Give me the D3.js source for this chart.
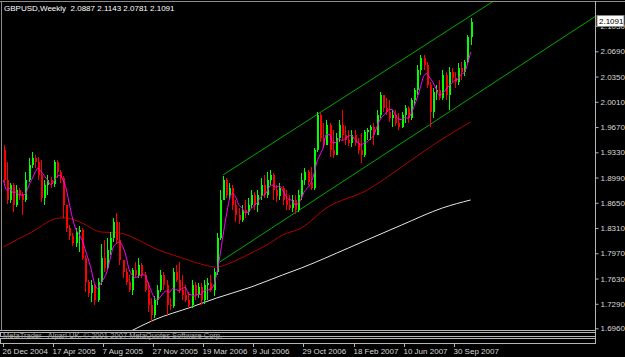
<!DOCTYPE html>
<html>
<head>
<meta charset="utf-8">
<script src="https://cdn.jsdelivr.net/npm/d3@7"></script>
<style>
  body { margin: 0; background: #000; }
  svg { display: block; }
  text { font-family: "Liberation Sans", Arial, sans-serif; }
</style>
</head>
<body>
<svg id="chart"></svg>
<script>
// GBPUSD weekly bars, 26 Dec 2004 .. 4 Nov 2007
var symbol = "GBPUSD,Weekly"
var firstWeek = "2004-12-26"

var openP = [
  1.9361,1.8957,1.8688,1.8890,1.8620,1.8822,1.8755,1.8688,1.8957,1.9159,
  1.9253,1.9199,1.9024,1.8715,1.8890,1.8957,1.8903,1.9199,1.9065,1.8984,
  1.8620,1.8311,1.8203,1.8109,1.8257,1.8284,1.7907,1.7584,1.7435,1.7543,
  1.7341,1.7584,1.7907,1.7772,1.8014,1.8176,1.8391,1.8149,1.7880,1.7718,
  1.7584,1.7476,1.7745,1.7678,1.7812,1.7678,1.7476,1.7274,1.7139,1.7341,
  1.7476,1.7678,1.7543,1.7274,1.7260,1.7718,1.7610,1.7476,1.7408,1.7341,
  1.7274,1.7543,1.7408,1.7516,1.7341,1.7543,1.7570,1.7476,1.7718,1.8176,
  1.8688,1.8957,1.8755,1.8849,1.8620,1.8486,1.8418,1.8553,1.8526,1.8620,
  1.8755,1.8620,1.8755,1.8890,1.8755,1.8957,1.9024,1.8822,1.8742,1.8849,
  1.8688,1.8620,1.8580,1.8688,1.8553,1.8755,1.8957,1.9065,1.8930,1.8849,
  1.9361,1.9832,1.9523,1.9428,1.9698,1.9361,1.9294,1.9523,1.9698,1.9563,
  1.9496,1.9455,1.9563,1.9455,1.9361,1.9294,1.9603,1.9630,1.9671,1.9563,
  1.9832,2.0102,1.9927,1.9873,1.9792,1.9832,1.9725,1.9671,1.9832,1.9927,
  1.9792,2.0034,2.0169,2.0438,2.0600,2.0506,2.0237,1.9873,2.0142,2.0169,
  2.0061,2.0371,2.0102,2.0411,2.0331,2.0277,2.0465,2.0411,2.0546,2.0887
]
var highP = [
  1.9428,1.9199,1.8917,1.8917,1.8890,1.8849,1.8796,1.9065,1.9253,1.9334,
  1.9294,1.9267,1.9226,1.8957,1.9024,1.8997,1.9226,1.9226,1.9092,1.9011,
  1.8620,1.8351,1.8243,1.8311,1.8338,1.8311,1.7947,1.7610,1.7610,1.7557,
  1.7637,1.8095,1.8149,1.8176,1.8257,1.8445,1.8513,1.8391,1.7880,1.7772,
  1.7678,1.7772,1.7853,1.7907,1.7840,1.7718,1.7584,1.7368,1.7395,1.7543,
  1.7745,1.7718,1.7610,1.7368,1.7772,1.7812,1.7853,1.7678,1.7543,1.7449,
  1.7610,1.7584,1.7570,1.7570,1.7610,1.7637,1.7678,1.7772,1.8243,1.8822,
  1.9011,1.8984,1.8917,1.8890,1.8688,1.8580,1.8620,1.8688,1.8715,1.8822,
  1.8796,1.8822,1.8984,1.9024,1.9065,1.9092,1.9051,1.8890,1.8917,1.8876,
  1.8822,1.8755,1.8755,1.8755,1.8822,1.9051,1.9119,1.9092,1.9132,1.9388,
  1.9873,1.9859,1.9725,1.9765,1.9725,1.9630,1.9590,1.9765,1.9900,1.9684,
  1.9630,1.9630,1.9630,1.9523,1.9590,1.9630,1.9657,1.9698,1.9725,1.9900,
  2.0142,2.0102,2.0061,2.0034,1.9900,1.9900,1.9859,1.9873,1.9967,1.9950,
  2.0061,2.0196,2.0506,2.0640,2.0640,2.0546,2.0277,2.0196,2.0237,2.0304,
  2.0438,2.0411,2.0479,2.0465,2.0411,2.0533,2.0546,2.0573,2.0910,2.1143
]
var lowP = [
  1.8917,1.8634,1.8647,1.8526,1.8593,1.8688,1.8486,1.8661,1.8930,1.9119,
  1.9119,1.8957,1.8661,1.8620,1.8755,1.8849,1.8863,1.8984,1.8917,1.8445,
  1.8257,1.8149,1.8068,1.8055,1.7988,1.7880,1.7449,1.7381,1.7314,1.7274,
  1.7314,1.7543,1.7718,1.7745,1.7947,1.8122,1.8095,1.7812,1.7637,1.7543,
  1.7449,1.7408,1.7651,1.7637,1.7637,1.7449,1.7179,1.7045,1.7099,1.7274,
  1.7449,1.7476,1.7139,1.7206,1.7233,1.7584,1.7435,1.7341,1.7314,1.7233,
  1.7233,1.7341,1.7368,1.7274,1.7287,1.7341,1.7449,1.7395,1.7678,1.8149,
  1.8688,1.8715,1.8688,1.8553,1.8391,1.8365,1.8391,1.8445,1.8486,1.8580,
  1.8553,1.8526,1.8688,1.8715,1.8715,1.8890,1.8688,1.8661,1.8688,1.8620,
  1.8553,1.8553,1.8526,1.8499,1.8526,1.8688,1.8890,1.8890,1.8822,1.8822,
  1.9334,1.9469,1.9388,1.9428,1.9267,1.9253,1.9294,1.9469,1.9496,1.9428,
  1.9415,1.9402,1.9415,1.9307,1.9186,1.9267,1.9496,1.9496,1.9428,1.9563,
  1.9792,1.9873,1.9832,1.9738,1.9671,1.9684,1.9630,1.9657,1.9725,1.9725,
  1.9765,1.9967,2.0102,2.0371,2.0438,2.0196,1.9671,1.9792,2.0034,2.0034,
  2.0034,2.0034,1.9900,2.0277,2.0196,2.0237,2.0304,2.0357,2.0533,2.0781
]
var closeP = [
  1.8957,1.8688,1.8890,1.8620,1.8822,1.8755,1.8688,1.8957,1.9159,1.9253,
  1.9199,1.9024,1.8715,1.8890,1.8957,1.8903,1.9199,1.9065,1.8984,1.8620,
  1.8311,1.8203,1.8109,1.8257,1.8284,1.7907,1.7584,1.7435,1.7543,1.7341,
  1.7584,1.7907,1.7772,1.8014,1.8176,1.8391,1.8149,1.7880,1.7718,1.7584,
  1.7476,1.7745,1.7678,1.7812,1.7678,1.7476,1.7274,1.7139,1.7341,1.7476,
  1.7678,1.7543,1.7274,1.7260,1.7718,1.7610,1.7476,1.7408,1.7341,1.7274,
  1.7543,1.7408,1.7516,1.7341,1.7543,1.7570,1.7476,1.7718,1.8176,1.8688,
  1.8957,1.8755,1.8849,1.8620,1.8486,1.8418,1.8553,1.8526,1.8620,1.8755,
  1.8620,1.8755,1.8890,1.8755,1.8957,1.9024,1.8822,1.8742,1.8849,1.8688,
  1.8620,1.8580,1.8688,1.8553,1.8755,1.8957,1.9065,1.8930,1.8849,1.9361,
  1.9832,1.9523,1.9428,1.9698,1.9361,1.9294,1.9523,1.9698,1.9563,1.9496,
  1.9455,1.9563,1.9455,1.9361,1.9294,1.9603,1.9630,1.9671,1.9563,1.9832,
  2.0102,1.9927,1.9873,1.9792,1.9832,1.9725,1.9671,1.9832,1.9927,1.9792,
  2.0034,2.0169,2.0438,2.0600,2.0506,2.0237,1.9873,2.0142,2.0169,2.0061,
  2.0371,2.0102,2.0411,2.0331,2.0277,2.0465,2.0411,2.0546,2.0887,2.1091
]

// slow moving averages (red and white), read at a few bars
var maRedBars   = [0, 9, 18, 20, 25, 31, 37, 43, 48, 54, 59, 64, 68, 73, 79, 84, 89, 95, 103, 116, 127, 137, 149]
var maRedVals   = [1.8055, 1.8257, 1.8445, 1.8445, 1.8378, 1.8257, 1.8243, 1.8149, 1.8041, 1.7947, 1.7880, 1.7812,
                   1.7785, 1.7853, 1.7974, 1.8082, 1.8216, 1.8311, 1.8580, 1.8822, 1.9132, 1.9428, 1.9738]
var maWhiteBars = [41, 48, 60, 68, 79, 89, 95, 110, 127, 140, 149]
var maWhiteVals = [1.6930, 1.7072, 1.7247, 1.7368, 1.7516, 1.7678, 1.7772, 1.8041, 1.8351, 1.8580, 1.8688]
var fastPeriod = 5

// trend channel, two anchor points each (bar, price)
var channelTopBars = [70, 136],  channelTopVals = [1.9024, 2.0815]
var channelLowBars = [69, 136],  channelLowVals = [1.7853, 1.9703]

var priceTicks = [1.6960, 1.7290, 1.7630, 1.7970, 1.8310, 1.8650, 1.8990, 1.9330, 1.9670, 2.0010, 2.0350, 2.0690, 2.1030]
var timeLabels = ["26 Dec 2004", "17 Apr 2005", "7 Aug 2005", "27 Nov 2005", "19 Mar 2006",
                  "9 Jul 2006", "29 Oct 2006", "18 Feb 2007", "10 Jun 2007", "30 Sep 2007"]
var copyright = "MetaTrader - Alpari UK, \u00a9 2001-2007 MetaQuotes Software Corp."

function mtChart() {
    var width = 625,
        height = 357
    var plot = { left: 2, right: 595, top: 2, bottom: 330 }
    var bull = "#00ff00", bear = "#ff0000", frame = "#b4b4b4", txt = "#d8d8d8"

    function chart(svg) {
        svg.attr("width", width).attr("height", height)
            .style("background", "#000")

        var n = closeP.length
        var x = d3.scaleLinear().domain([0, n - 1]).range([3.5, 470.6])
        var y = d3.scaleLinear().domain([1.6937, 2.1354]).range([plot.bottom, plot.top])

        svg.append("clipPath").attr("id", "plotclip")
            .append("rect")
            .attr("x", plot.left).attr("y", plot.top)
            .attr("width", plot.right - plot.left).attr("height", plot.bottom - plot.top)

        // frame of main window
        svg.append("line").attr("x1", 0).attr("x2", width).attr("y1", 1.5).attr("y2", 1.5)
            .style("stroke", "#8c8c8c")
        svg.append("line").attr("x1", 1.5).attr("x2", 1.5).attr("y1", 1).attr("y2", plot.bottom)
            .style("stroke", "#8c8c8c")

        var g = svg.append("g").attr("clip-path", "url(#plotclip)")

        // white and red moving averages
        var line = d3.line().curve(d3.curveMonotoneX)
        g.append("path")
            .attr("d", line(maWhiteBars.map(function(b, i){ return [x(b), y(maWhiteVals[i])] })))
            .style("fill", "none").style("stroke", "#e6e6e6").style("stroke-width", 1)
        g.append("path")
            .attr("d", line(maRedBars.map(function(b, i){ return [x(b), y(maRedVals[i])] })))
            .style("fill", "none").style("stroke", "#b00000").style("stroke-width", 1)

        // channel lines, extended to the right edge
        var lastBar = x.invert(plot.right)
        function ray(bars, vals) {
            var slope = (vals[1] - vals[0]) / (bars[1] - bars[0])
            return [[x(bars[0]), y(vals[0])], [x(lastBar), y(vals[0] + slope * (lastBar - bars[0]))]]
        }
        ;[[channelTopBars, channelTopVals], [channelLowBars, channelLowVals]].forEach(function(c){
            g.append("path")
                .attr("d", d3.line()(ray(c[0], c[1])))
                .style("fill", "none").style("stroke", "#00a800").style("stroke-width", 1)
        })

        // candles
        var idx = d3.range(n)
        var candle = g.append("g").selectAll("g")
            .data(idx).enter().append("g")
            .style("shape-rendering", "crispEdges")
        candle.append("line")
            .attr("x1", function(i){ return Math.round(x(i)) + 0.5 })
            .attr("x2", function(i){ return Math.round(x(i)) + 0.5 })
            .attr("y1", function(i){ return y(highP[i]) })
            .attr("y2", function(i){ return y(lowP[i]) })
            .style("stroke", function(i){ return closeP[i] >= openP[i] ? bull : bear })
        candle.append("rect")
            .attr("x", function(i){ return Math.round(x(i)) - 0.5 })
            .attr("width", 2)
            .attr("y", function(i){ return y(Math.max(openP[i], closeP[i])) })
            .attr("height", function(i){ return Math.max(1, Math.abs(y(openP[i]) - y(closeP[i]))) })
            .style("fill", function(i){ return closeP[i] >= openP[i] ? bull : bear })

        // fast (magenta) moving average of the closes
        var fast = idx.map(function(i){
            return [x(i), y(d3.mean(closeP.slice(Math.max(0, i - fastPeriod + 1), i + 1)))]
        })
        g.append("path").attr("d", d3.line().curve(d3.curveMonotoneX)(fast))
            .style("fill", "none").style("stroke", "#ff00ff").style("stroke-width", 1)

        // price axis
        var yAxis = d3.axisRight(y).tickValues(priceTicks).tickSize(3).tickSizeOuter(0)
            .tickFormat(d3.format(".4f"))
        var ya = svg.append("g")
            .attr("transform", "translate(" + (plot.right + 0.5) + ",0)")
            .call(yAxis)
        ya.select(".domain").remove()
        ya.selectAll("line").style("stroke", frame)
        ya.selectAll("text").attr("x", 5).style("fill", txt).style("font-size", "8px")
        svg.append("line").attr("x1", plot.right + 0.5).attr("x2", plot.right + 0.5)
            .attr("y1", 1).attr("y2", 344).style("stroke", frame)

        // current price label (covers the top tick label, as in the terminal)
        var last = closeP[n - 1]
        svg.append("rect").attr("x", plot.right + 2).attr("y", y(last) - 6)
            .attr("width", 27).attr("height", 11)
            .style("fill", "#fff").style("stroke", "#888")
        svg.append("text").attr("x", plot.right + 4).attr("y", y(last) + 2.5)
            .style("fill", "#000").style("font-size", "8px")
            .text(d3.format(".4f")(last))

        // empty indicator strips under the chart
        svg.append("line").attr("x1", 0).attr("x2", plot.right).attr("y1", plot.bottom + 0.5).attr("y2", plot.bottom + 0.5)
            .style("stroke", frame)
        ;[[332.5, 4], [338.5, 5]].forEach(function(s){
            svg.append("rect").attr("x", 0.5).attr("y", s[0]).attr("width", plot.right).attr("height", s[1])
                .style("fill", "none").style("stroke", frame)
        })
        svg.append("text").attr("x", 3).attr("y", 338)
            .style("fill", "#a0a0a0").style("font-size", "7.5px")
            .text(copyright)

        // time axis
        var parse = d3.utcParse("%e %b %Y")
        var start = d3.utcParse("%Y-%m-%d")(firstWeek)
        var ta = svg.append("g").selectAll("g").data(timeLabels).enter().append("g")
            .attr("transform", function(d){
                var b = d3.utcWeek.count(start, parse(d))
                return "translate(" + (Math.round(x(b)) - 0.5) + ",0)"
            })
        ta.append("line").attr("y1", 344).attr("y2", 347).style("stroke", frame)
        ta.append("text").attr("x", -1).attr("y", 354)
            .style("fill", txt).style("font-size", "8px")
            .text(function(d){ return d })

        // title
        svg.append("text").attr("x", 4).attr("y", 11)
            .style("fill", "#fff").style("font-size", "8px").style("white-space", "pre")
            .text(symbol + "  " + [openP[n - 1], highP[n - 1], lowP[n - 1], closeP[n - 1]]
                .map(d3.format(".4f")).join(" "))
    }

    chart.width = function(value) {
        if (!arguments.length) return width
        width = value
        return chart
    }
    chart.height = function(value) {
        if (!arguments.length) return height
        height = value
        return chart
    }
    return chart
}

d3.select("#chart").call(mtChart())
</script>
</body>
</html>
